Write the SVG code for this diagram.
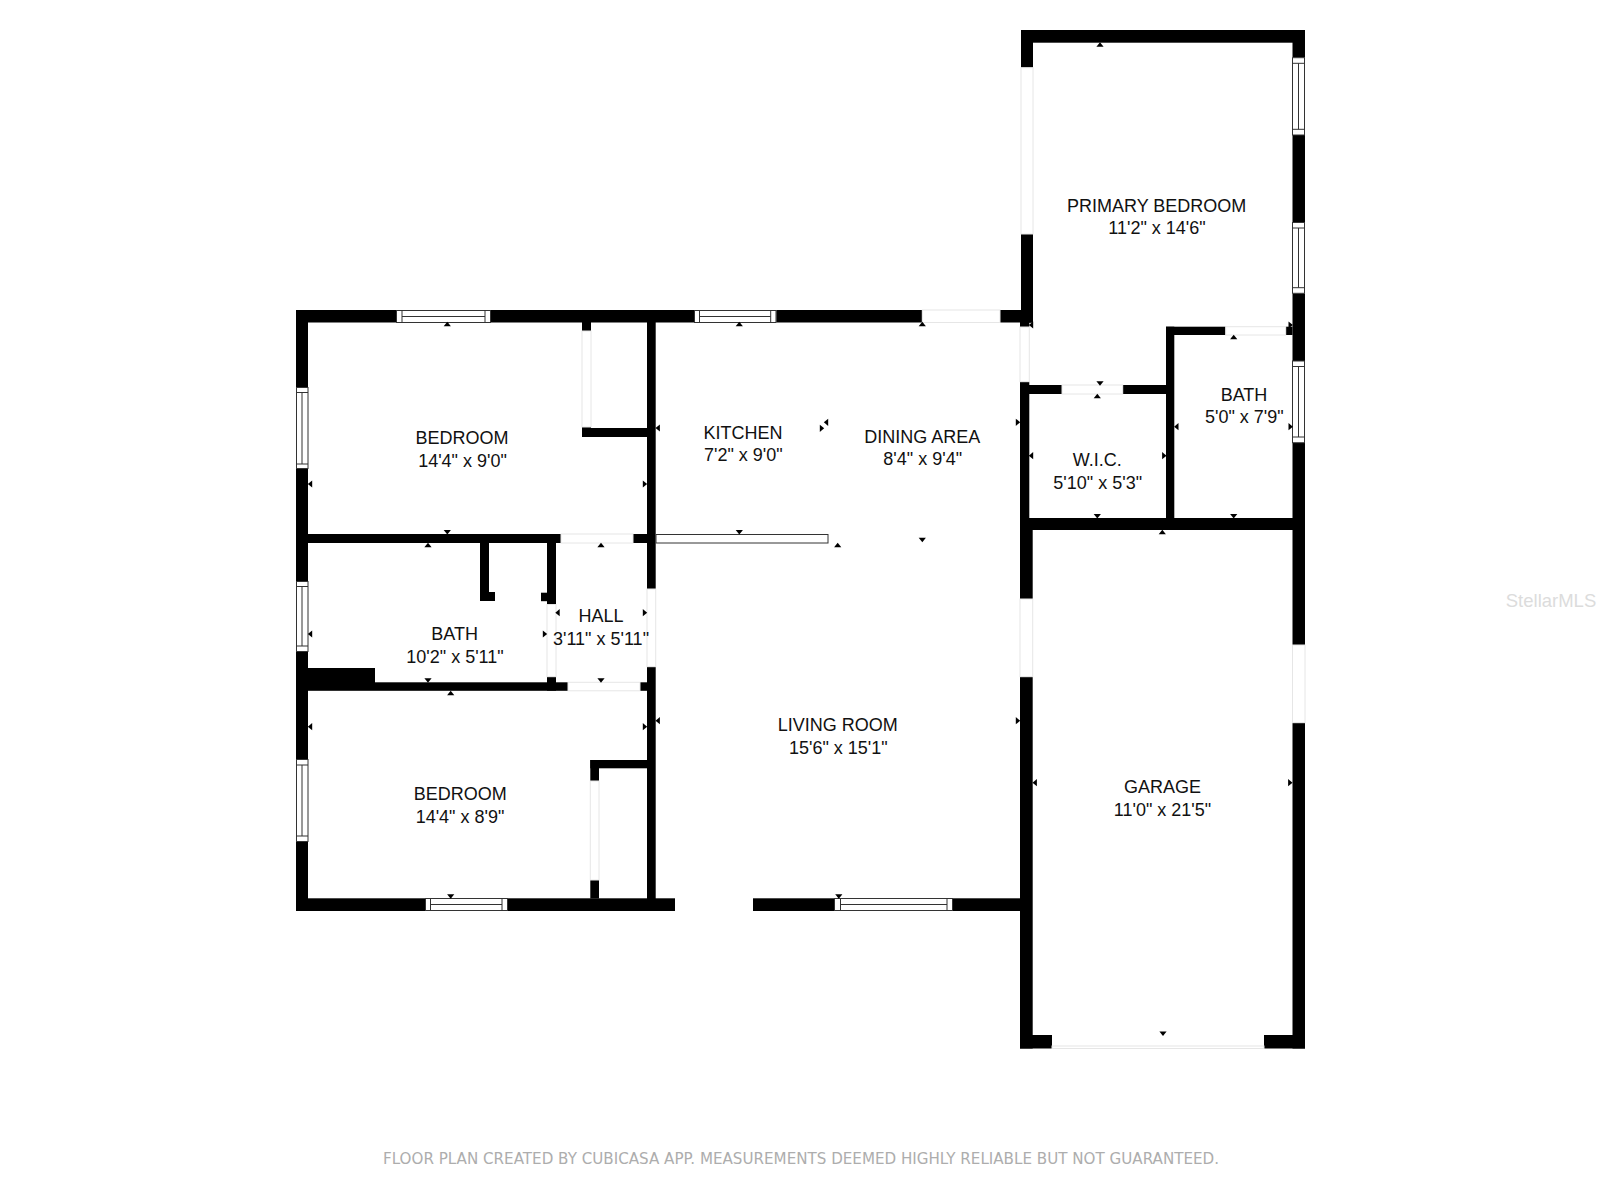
<svg xmlns="http://www.w3.org/2000/svg" width="1600" height="1200" viewBox="0 0 1600 1200">
<style>
.w{fill:#000}
.d{fill:#fff;stroke:#e6e6e6;stroke-width:1}
.g{fill:#fff;stroke:#333;stroke-width:1}
.l{stroke:#333;stroke-width:1;fill:none}
.a{fill:#000}
text{font-family:"Liberation Sans",Arial,sans-serif;font-size:18px;fill:#111;text-anchor:middle}
</style>
<defs>
<path id="u" d="M-3.6,2.2 L3.6,2.2 L0,-2.2 Z"/>
<path id="n" d="M-3.6,-2.2 L3.6,-2.2 L0,2.2 Z"/>
<path id="e" d="M-2.2,-3.6 L-2.2,3.6 L2.2,0 Z"/>
<path id="o" d="M2.2,-3.6 L2.2,3.6 L-2.2,0 Z"/>
</defs>
<rect width="1600" height="1200" fill="#fff"/>
<g id="walls" class="w">
<rect x="296" y="310" width="100" height="12.5"/>
<rect x="491" y="310" width="203" height="12.5"/>
<rect x="776.3" y="310" width="146" height="12.5"/>
<rect x="1000" y="310" width="33" height="12.5"/>
<rect x="296" y="310" width="12" height="77"/>
<rect x="296" y="469" width="12" height="112"/>
<rect x="296" y="652" width="12" height="107"/>
<rect x="296" y="841.7" width="12" height="69.3"/>
<rect x="296" y="898.3" width="129" height="12.7"/>
<rect x="507.7" y="898.3" width="167.3" height="12.7"/>
<rect x="753" y="898.3" width="81.4" height="12.7"/>
<rect x="953" y="898.3" width="68" height="12.7"/>
<rect x="582" y="322" width="9" height="9"/>
<rect x="582" y="427" width="9" height="10"/>
<rect x="582" y="428" width="65" height="9"/>
<rect x="647" y="310" width="8.7" height="279"/>
<rect x="647" y="666.7" width="8.7" height="244"/>
<rect x="296" y="534" width="265" height="9"/>
<rect x="633" y="534" width="14" height="9"/>
<rect x="480" y="543" width="9" height="58"/>
<rect x="480" y="592" width="15" height="9"/>
<rect x="547" y="543" width="9" height="61.5"/>
<rect x="541" y="592.7" width="6" height="8.5"/>
<rect x="547" y="676.7" width="9" height="14"/>
<rect x="308" y="668" width="67" height="15"/>
<rect x="296" y="682.3" width="272" height="8.5"/>
<rect x="640" y="682.3" width="7" height="8.5"/>
<rect x="590.3" y="760" width="57" height="8.3"/>
<rect x="590.3" y="760" width="8.7" height="21"/>
<rect x="590.3" y="880" width="8.7" height="18.5"/>
<rect x="1021" y="30" width="284" height="12.7"/>
<rect x="1021" y="30" width="12" height="37.7"/>
<rect x="1021" y="234" width="12" height="88.7"/>
<rect x="1020" y="322" width="9.3" height="5"/>
<rect x="1292.5" y="30" width="12.5" height="27.7"/>
<rect x="1292.5" y="135" width="12.5" height="87.5"/>
<rect x="1292.5" y="293.3" width="12.5" height="67.7"/>
<rect x="1292.5" y="442.7" width="12.5" height="202.3"/>
<rect x="1292.5" y="722.7" width="12.5" height="325.8"/>
<rect x="1020" y="381.7" width="9.3" height="136.3"/>
<rect x="1020" y="518" width="12.7" height="81"/>
<rect x="1020" y="676.7" width="12.7" height="371.8"/>
<rect x="1029" y="385" width="33" height="9"/>
<rect x="1122.7" y="385" width="43.3" height="9"/>
<rect x="1166" y="326.7" width="8.3" height="191.3"/>
<rect x="1166" y="326.7" width="59.7" height="8.3"/>
<rect x="1285.7" y="326.7" width="6.8" height="8.3"/>
<rect x="1020" y="518" width="285" height="12"/>
<rect x="1020" y="1035" width="32" height="13.5"/>
<rect x="1264" y="1035" width="41" height="13.5"/>
</g>
<g id="doors">
<rect class="d" x="922.3" y="310" width="77.7" height="12.5"/>
<rect class="d" x="582" y="331" width="9" height="96"/>
<rect class="d" x="561" y="534" width="72" height="9"/>
<rect class="d" x="647" y="589" width="8.7" height="77.7"/>
<rect class="d" x="547" y="604.5" width="9" height="72.2"/>
<rect class="d" x="568" y="682.3" width="72" height="8.5"/>
<rect class="d" x="590.3" y="781" width="8.7" height="99"/>
<rect class="d" x="1021" y="67.7" width="12" height="166.3"/>
<rect class="d" x="1020" y="327" width="9.3" height="54.7"/>
<rect class="d" x="1062" y="385" width="60.7" height="9"/>
<rect class="d" x="1225.7" y="326.7" width="60" height="8.3"/>
<rect class="d" x="1020" y="599" width="12.7" height="77.7"/>
<rect class="d" x="1292.5" y="645" width="12.5" height="77.7"/>
<rect class="d" x="1052" y="1046" width="212" height="2.5"/>
</g>
<g id="windows">
<rect class="g" x="396.5" y="310.5" width="94" height="12"/><path class="l" d="M402,310.5V322.5M485,310.5V322.5M402,316.5H485"/>
<rect class="g" x="694.5" y="310.5" width="81.5" height="12"/><path class="l" d="M699.5,310.5V322.5M770.7,310.5V322.5M699.5,316.5H770.7"/>
<rect class="g" x="296.5" y="387.5" width="11.5" height="81"/><path class="l" d="M296.5,392.5H308M296.5,464H308M302,392.5V464"/>
<rect class="g" x="296.5" y="581.5" width="11.5" height="70"/><path class="l" d="M296.5,586.5H308M296.5,646H308M302,586.5V646"/>
<rect class="g" x="296.5" y="759.5" width="11.5" height="82"/><path class="l" d="M296.5,765H308M296.5,836H308M302,765V836"/>
<rect class="g" x="425.5" y="898.5" width="82" height="12"/><path class="l" d="M430.5,898.5V910.5M502,898.5V910.5M430.5,904.5H502"/>
<rect class="g" x="834.5" y="898.5" width="118" height="12"/><path class="l" d="M840.5,898.5V910.5M947,898.5V910.5M840.5,904.5H947"/>
<rect class="g" x="1292.5" y="57.7" width="12" height="77.3"/><path class="l" d="M1292.5,63.3H1304.5M1292.5,129.3H1304.5M1298.5,63.3V129.3"/>
<rect class="g" x="1292.5" y="222.5" width="12" height="70.8"/><path class="l" d="M1292.5,228H1304.5M1292.5,287.7H1304.5M1298.5,228V287.7"/>
<rect class="g" x="1292.5" y="361" width="12" height="81.7"/><path class="l" d="M1292.5,366.5H1304.5M1292.5,437H1304.5M1298.5,366.5V437"/>
<rect class="g" x="656" y="534.5" width="172" height="8.5"/>
</g>
<g id="arrows" class="a">
<use href="#u" x="447.3" y="324"/><use href="#u" x="739.3" y="324"/><use href="#u" x="922.3" y="324"/><use href="#u" x="1100" y="44.5"/>
<use href="#u" x="428" y="545"/><use href="#u" x="601" y="545"/><use href="#u" x="837.7" y="545"/><use href="#u" x="450.7" y="693"/>
<use href="#u" x="1097.3" y="396"/><use href="#u" x="1233.7" y="337"/><use href="#u" x="1162.3" y="532"/>
<use href="#n" x="447.3" y="532.2"/><use href="#n" x="739.3" y="532.2"/><use href="#n" x="922.3" y="540"/><use href="#n" x="428" y="680.5"/><use href="#n" x="601" y="680.5"/>
<use href="#n" x="450.7" y="896.5"/><use href="#n" x="838.8" y="896.5"/><use href="#n" x="1100" y="383.5"/><use href="#n" x="1097.3" y="516.2"/><use href="#n" x="1233.7" y="516.2"/><use href="#n" x="1163" y="1033.7"/>
<use href="#o" x="310" y="484"/><use href="#o" x="310" y="634"/><use href="#o" x="310" y="726.7"/><use href="#o" x="657.7" y="428"/><use href="#o" x="657.7" y="720.7"/><use href="#o" x="557.5" y="612.7"/>
<use href="#o" x="826" y="422.3"/><use href="#o" x="1031" y="455.7"/><use href="#o" x="1176.3" y="426.7"/><use href="#o" x="1034.7" y="782.7"/><use href="#o" x="1031" y="325"/>
<use href="#e" x="645" y="484"/><use href="#e" x="645" y="612.7"/><use href="#e" x="645" y="726.7"/><use href="#e" x="545" y="634"/><use href="#e" x="822" y="428.3"/>
<use href="#e" x="1018" y="422.3"/><use href="#e" x="1018" y="720.7"/><use href="#e" x="1164.3" y="455.7"/><use href="#e" x="1290.7" y="426.7"/><use href="#e" x="1290.7" y="325"/><use href="#e" x="1290.3" y="782.7"/>
</g>
<g id="labels">
<text x="462" y="444">BEDROOM</text><text x="462.5" y="466.7">14'4" x 9'0"</text>
<text x="460.3" y="800">BEDROOM</text><text x="460" y="822.7">14'4" x 8'9"</text>
<text x="454.7" y="640">BATH</text><text x="455" y="662.7">10'2" x 5'11"</text>
<text x="601" y="622">HALL</text><text x="601" y="644.7">3'11" x 5'11"</text>
<text x="743" y="438.7">KITCHEN</text><text x="743.3" y="461">7'2" x 9'0"</text>
<text x="922.3" y="442.7">DINING AREA</text><text x="922.7" y="465">8'4" x 9'4"</text>
<text x="1156.7" y="211.7">PRIMARY BEDROOM</text><text x="1157" y="234">11'2" x 14'6"</text>
<text x="1097.2" y="466">W.I.C.</text><text x="1097.7" y="488.7">5'10" x 5'3"</text>
<text x="1244" y="400.7">BATH</text><text x="1244.3" y="423.3">5'0" x 7'9"</text>
<text x="837.7" y="731.3">LIVING ROOM</text><text x="838.3" y="753.7">15'6" x 15'1"</text>
<text x="1162.5" y="792.7">GARAGE</text><text x="1162.5" y="815.7">11'0" x 21'5"</text>
</g>
<text id="footer" x="383" y="1164" textLength="836" lengthAdjust="spacingAndGlyphs" style="font-family:'DejaVu Sans',sans-serif;font-size:15px;fill:#adadad;text-anchor:start">FLOOR PLAN CREATED BY CUBICASA APP. MEASUREMENTS DEEMED HIGHLY RELIABLE BUT NOT GUARANTEED.</text>
<text id="watermark" x="1551" y="607" style="font-size:18.5px;fill:#dcdcdc">StellarMLS</text>
</svg>
